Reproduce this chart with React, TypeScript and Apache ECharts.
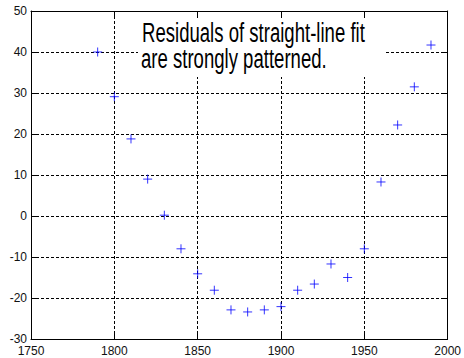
import React, { useEffect, useRef } from "react";
import * as echarts from "echarts";

// Census years and the residuals of a straight-line fit to the population.
const years = [1790, 1800, 1810, 1820, 1830, 1840, 1850, 1860, 1870, 1880, 1890, 1900, 1910, 1920, 1930, 1940, 1950, 1960, 1970, 1980, 1990];
const residuals = [40.0, 29.1, 18.8, 9.0, 0.2, -8.0, -14.1, -18.1, -22.9, -23.4, -22.9, -22.1, -18.1, -16.6, -11.7, -15.0, -8.0, 8.3, 22.2, 31.5, 41.7];

const xTicks = { min: 1750, max: 2000, interval: 50 };
const yTicks = { min: -30, max: 50, interval: 10 };

const noteLines = ["Residuals of straight-line fit", "are strongly patterned."];

const LABEL_FONT = "Liberation Sans, Arial, sans-serif";
const NOTE_FONT = "Liberation Sans";

function textWidth(text: string, size: number, family: string): number {
  const ctx = document.createElement("canvas").getContext("2d");
  if (!ctx) return text.length * size * 0.5;
  ctx.font = `${size}px "${family}"`;
  return ctx.measureText(text).width;
}

export default function App() {
  const ref = useRef<HTMLDivElement>(null);

  useEffect(() => {
    document.body.style.margin = "0";
    if (!ref.current) return;
    const chart = echarts.init(ref.current, null, { renderer: "svg" });

    const noteSize = 28;
    const noteScale = 223 / textWidth(noteLines[0], noteSize, NOTE_FONT);

    const grid = { left: 31, top: 11, width: 418, height: 328 };
    const dashed = { color: "#000", width: 1, type: [3, 2] as number[] };
    const axisLine = { show: true, onZero: false, lineStyle: { color: "#000", width: 1 } };
    const tick = { show: true, inside: true, length: 5, lineStyle: { color: "#000" } };
    const plain = (v: number) => String(v);

    const noteText = (text: string, x: number, y: number) => ({
      type: "text",
      x,
      y,
      scaleX: noteScale,
      z: 11,
      style: {
        text,
        fontSize: noteSize,
        fontFamily: NOTE_FONT,
        fill: "#000",
        verticalAlign: "top",
        align: "left",
      },
    });

    chart.setOption({
      animation: false,
      backgroundColor: "#fff",
      grid: { ...grid, containLabel: false },
      xAxis: [
        {
          type: "value",
          ...xTicks,
          axisLine,
          axisTick: tick,
          splitLine: { show: true, lineStyle: dashed },
          axisLabel: { color: "#111", fontSize: 12, fontFamily: LABEL_FONT, margin: 6, formatter: plain },
        },
        {
          type: "value",
          position: "top",
          ...xTicks,
          axisLine,
          axisTick: tick,
          splitLine: { show: false },
          axisLabel: { show: false },
        },
      ],
      yAxis: [
        {
          type: "value",
          ...yTicks,
          axisLine,
          axisTick: tick,
          splitLine: { show: true, lineStyle: dashed },
          axisLabel: { color: "#111", fontSize: 12, fontFamily: LABEL_FONT, margin: 4, formatter: plain },
        },
        {
          type: "value",
          position: "right",
          ...yTicks,
          axisLine,
          axisTick: tick,
          splitLine: { show: false },
          axisLabel: { show: false },
        },
      ],
      series: [
        {
          type: "scatter",
          data: years.map((y, i) => [y, residuals[i]]),
          symbol: "path://M0,4L8,4M4,0L4,8",
          symbolSize: 9,
          itemStyle: { color: "transparent", borderColor: "#0000ff", borderWidth: 1 },
          z: 5,
        },
      ],
      graphic: [
        {
          type: "rect",
          shape: { x: 138, y: 18, width: 246, height: 59 },
          style: { fill: "#fff" },
          z: 10,
        },
        noteText(noteLines[0], 142, 18),
        noteText(noteLines[1], 141, 44),
      ],
    });

    return () => chart.dispose();
  }, []);

  return <div ref={ref} style={{ width: 464, height: 358 }} />;
}
